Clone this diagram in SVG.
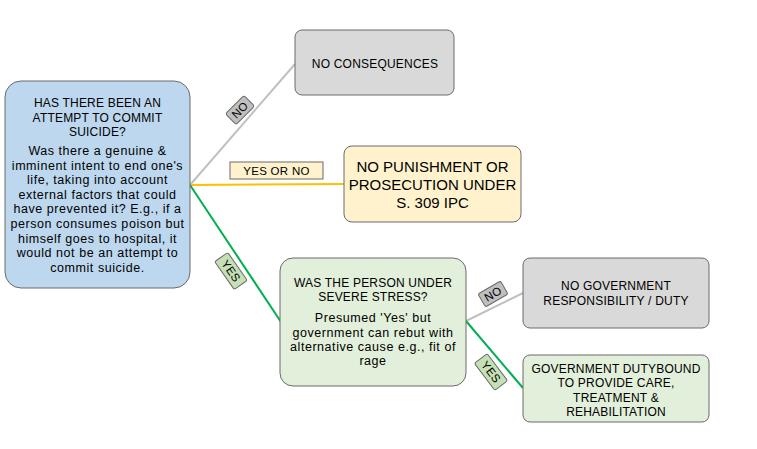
<svg xmlns="http://www.w3.org/2000/svg" width="757" height="449" viewBox="0 0 757 449">
<style>
.box{stroke:#6b6b6b;stroke-width:1}
.t{font-family:"Liberation Sans",Arial,sans-serif;fill:#000;text-anchor:middle}
.h{font-size:12px;letter-spacing:0.2px}
.b{font-size:12.5px;letter-spacing:0.55px}
.big{font-size:15px;letter-spacing:0px}
.lab{font-family:"Liberation Sans",Arial,sans-serif;font-size:11.5px;fill:#000;text-anchor:middle;letter-spacing:0.3px}
.c{fill:none;stroke-width:2}
</style>
<rect width="757" height="449" fill="#ffffff"/>
<g id="connectors">
<line class="c" x1="190" y1="185" x2="295" y2="64" stroke="#c0c0c0" stroke-width="1.5"/>
<line class="c" x1="190" y1="185" x2="344" y2="184" stroke="#ffc000"/>
<line class="c" x1="190" y1="185" x2="281" y2="322" stroke="#00b050"/>
<line class="c" x1="466" y1="321" x2="523" y2="293" stroke="#c0c0c0" stroke-width="1.5"/>
<line class="c" x1="466" y1="321" x2="523" y2="388" stroke="#00b050"/>
<g id="label-no-1" transform="translate(240,110) rotate(-45)">
<rect x="-13" y="-7.5" width="26" height="15" rx="2" fill="#bfbfbf" class="box"/>
<text class="lab" x="0" y="4">NO</text>
</g>
<g id="label-yesorno">
<rect x="230" y="162" width="93" height="17" fill="#fff2cc" class="box"/>
<text class="lab" x="276.5" y="175">YES OR NO</text>
</g>
<g id="label-yes-1" transform="translate(231,271) rotate(55)">
<rect x="-17" y="-8" width="34" height="16" rx="2" fill="#c5e0b4" class="box"/>
<text class="lab" x="0" y="4">YES</text>
</g>
<g id="label-no-2" transform="translate(493,294) rotate(-30)">
<rect x="-13" y="-7.5" width="26" height="15" rx="2" fill="#bfbfbf" class="box"/>
<text class="lab" x="0" y="4">NO</text>
</g>
<g id="label-yes-2" transform="translate(491,372) rotate(53)">
<rect x="-17" y="-8" width="34" height="16" rx="2" fill="#c5e0b4" class="box"/>
<text class="lab" x="0" y="4">YES</text>
</g>
</g>
<g id="node-attempt">
<rect x="5" y="81" width="185" height="207" rx="16" fill="#bdd7ee" class="box"/>
<text class="t h" x="97.5" y="107">HAS THERE BEEN AN</text>
<text class="t h" x="97.5" y="121.5">ATTEMPT TO COMMIT</text>
<text class="t h" x="97.5" y="136">SUICIDE?</text>
<text class="t b" x="97.5" y="155">Was there a genuine &amp;</text>
<text class="t b" x="97.5" y="169.6">imminent intent to end one's</text>
<text class="t b" x="97.5" y="184.2">life, taking into account</text>
<text class="t b" x="97.5" y="198.8">external factors that could</text>
<text class="t b" x="97.5" y="213.4">have prevented it? E.g., if a</text>
<text class="t b" x="97.5" y="228">person consumes poison but</text>
<text class="t b" x="97.5" y="242.6">himself goes to hospital, it</text>
<text class="t b" x="97.5" y="257.2">would not be an attempt to</text>
<text class="t b" x="97.5" y="271.8">commit suicide.</text>
</g>
<g id="node-noconsequences">
<rect x="295" y="30" width="159" height="65" rx="7" fill="#d9d9d9" class="box"/>
<text class="t h" x="375" y="67.5">NO CONSEQUENCES</text>
</g>
<g id="node-nopunishment">
<rect x="344" y="146" width="177" height="76" rx="8" fill="#fff2cc" class="box"/>
<text class="t big" x="432.5" y="172">NO PUNISHMENT OR</text>
<text class="t big" x="432.5" y="190">PROSECUTION UNDER</text>
<text class="t big" x="432.5" y="207.5">S. 309 IPC</text>
</g>
<g id="node-stress">
<rect x="280" y="258" width="186" height="128" rx="13" fill="#e2efda" class="box"/>
<text class="t h" x="373" y="287">WAS THE PERSON UNDER</text>
<text class="t h" x="373" y="301">SEVERE STRESS?</text>
<text class="t b" x="373" y="322">Presumed 'Yes' but</text>
<text class="t b" x="373" y="336.5">government can rebut with</text>
<text class="t b" x="373" y="351">alternative cause e.g., fit of</text>
<text class="t b" x="373" y="365">rage</text>
</g>
<g id="node-noresponsibility">
<rect x="523" y="258" width="186" height="70" rx="7" fill="#d9d9d9" class="box"/>
<text class="t h" x="616" y="289.5">NO GOVERNMENT</text>
<text class="t h" x="616" y="305">RESPONSIBILITY / DUTY</text>
</g>
<g id="node-dutybound">
<rect x="523" y="355" width="186" height="67" rx="7" fill="#e2efda" class="box"/>
<text class="t h" x="616" y="372.5">GOVERNMENT DUTYBOUND</text>
<text class="t h" x="616" y="387">TO PROVIDE CARE,</text>
<text class="t h" x="616" y="401.5">TREATMENT &amp;</text>
<text class="t h" x="616" y="416">REHABILITATION</text>
</g>
</svg>
